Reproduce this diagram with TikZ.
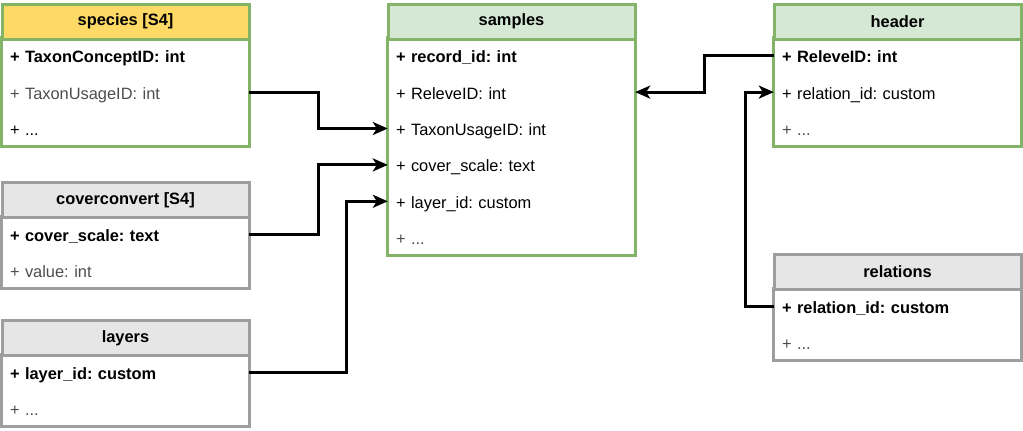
\documentclass[tikz,border=0pt]{standalone}
\usepackage{fontspec}
\setmainfont{Liberation Sans}
\usetikzlibrary{arrows.meta,fit}
\frenchspacing
\definecolor{grnline}{HTML}{82B366}
\definecolor{grnfill}{HTML}{D5E8D4}
\definecolor{yelfill}{HTML}{FFD966}
\definecolor{gryline}{HTML}{9E9E9E}
\definecolor{gryfill}{HTML}{E6E6E6}
\definecolor{txtgray}{HTML}{4D4D4D}
\tikzset{
  fnt/.style={font=\fontsize{16.4}{19}\selectfont\frenchspacing},
  ttl/.style={font=\fontsize{16.4}{19}\selectfont\bfseries\frenchspacing, draw, line width=3pt,
    minimum width=247, minimum height=35, inner sep=0, anchor=north},
  greenttl/.style={ttl, draw=grnline, fill=grnfill},
  yellowttl/.style={ttl, draw=grnline, fill=yelfill},
  grayttl/.style={ttl, draw=gryline, fill=gryfill},
  row/.style={fnt, minimum width=247, minimum height=36, text width=231, align=left,
    text height=14pt, text depth=0pt, inner sep=0, anchor=north},
  keyrow/.style={row, font=\fontsize{16.4}{19}\selectfont\bfseries\frenchspacing},
  dimrow/.style={row, text=txtgray},
  greenbox/.style={draw=grnline, line width=3pt, inner sep=0},
  graybox/.style={draw=gryline, line width=3pt, inner sep=0},
  link/.style={line width=3pt, -{Stealth[length=15pt,width=13pt,inset=4pt]}},
}
\begin{document}
\begin{tikzpicture}[x=1pt,y=-1pt]
\useasboundingbox (0,0) rectangle (1023,431);

% species
\node[keyrow] (sp1) at (125.5,37.5) {+ TaxonConceptID: int};
\node[dimrow] (sp2) at (sp1.south) {+ TaxonUsageID: int};
\node[row] (sp3) at (sp2.south) {+ ...};
\node[greenbox, fit=(sp1)(sp3)] (spbox) {};
\node[yellowttl] (sp) at (125.5,2.5) {species [S4]};

% coverconvert
\node[keyrow] (cc1) at (125.5,216) {+ cover\_scale: text};
\node[dimrow] (cc2) at (cc1.south) {+ value: int};
\node[graybox, fit=(cc1)(cc2)] (ccbox) {};
\node[grayttl] (cc) at (125.5,181) {coverconvert [S4]};

% layers
\node[keyrow] (ly1) at (125.5,354) {+ layer\_id: custom};
\node[dimrow] (ly2) at (ly1.south) {+ ...};
\node[graybox, fit=(ly1)(ly2)] (lybox) {};
\node[grayttl] (ly) at (125.5,319) {layers};

% samples
\node[keyrow] (sa1) at (511.5,37.5) {+ record\_id: int};
\node[row] (sa2) at (sa1.south) {+ ReleveID: int};
\node[row] (sa3) at (sa2.south) {+ TaxonUsageID: int};
\node[row] (sa4) at (sa3.south) {+ cover\_scale: text};
\node[row] (sa5) at (sa4.south) {+ layer\_id: custom};
\node[dimrow] (sa6) at (sa5.south) {+ ...};
\node[greenbox, fit=(sa1)(sa6)] (sabox) {};
\node[greenttl] (sa) at (511.5,2.5) {samples};

% header
\node[keyrow] (hd1) at (897.5,37.5) {+ ReleveID: int};
\node[row] (hd2) at (hd1.south) {+ relation\_id: custom};
\node[dimrow] (hd3) at (hd2.south) {+ ...};
\node[greenbox, fit=(hd1)(hd3)] (hdbox) {};
\node[greenttl] (hd) at (897.5,2.5) {header};

% relations
\node[keyrow] (rl1) at (897.5,288) {+ relation\_id: custom};
\node[dimrow] (rl2) at (rl1.south) {+ ...};
\node[graybox, fit=(rl1)(rl2)] (rlbox) {};
\node[grayttl] (rl) at (897.5,253) {relations};

% connectors
\draw[link] (sp2.east) -- ++(69,0) |- (sa3.west);
\draw[link] (cc1.east) -- ++(69,0) |- (sa4.west);
\draw[link] (ly1.east) -- ++(97,0) |- (sa5.west);
\draw[link] (hd1.west) -- ++(-69,0) |- (sa2.east);
\draw[link] (rl1.west) -- ++(-28,0) |- (hd2.west);
\end{tikzpicture}
\end{document}
